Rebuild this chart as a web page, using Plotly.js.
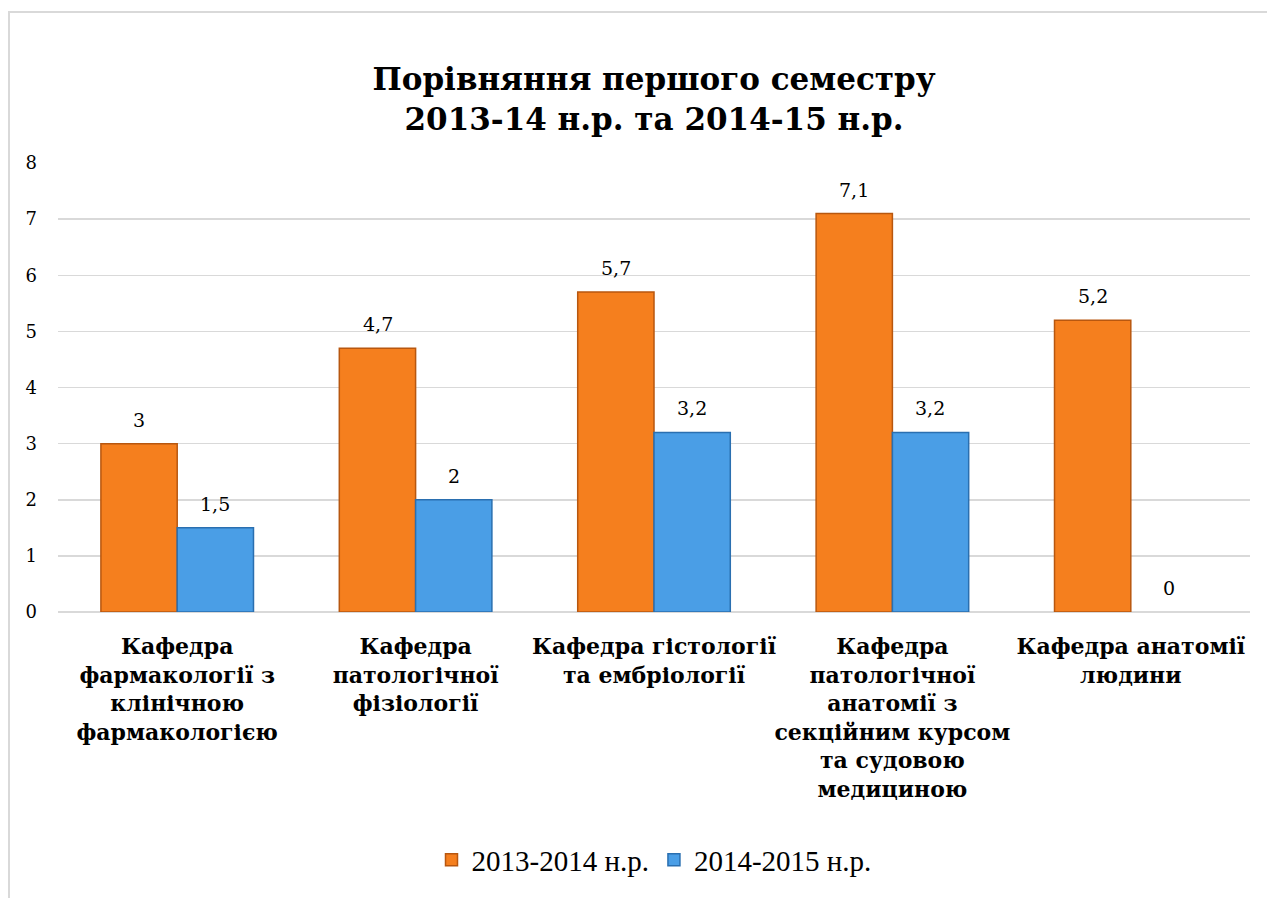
<!DOCTYPE html>
<html>
<head>
<meta charset="utf-8">
<script src="https://cdn.plot.ly/plotly-3.0.1.min.js"></script>
<style>
  html, body { margin: 0; padding: 0; overflow: hidden; background: #fff; }
  #frame { position: absolute; left: 8px; top: 11px; width: 1400px; height: 1000px;
           border-left: 2px solid #d9d9d9; border-top: 2px solid #d9d9d9; pointer-events: none; z-index: 2; }
  #chart { position: absolute; left: 0; top: 0; width: 1267px; height: 898px; }
</style>
</head>
<body>
<div id="chart"></div>
<div id="frame"></div>
<script>
const categories = [
  "Кафедра<br>фармакології з<br>клінічною<br>фармакологією",
  "Кафедра<br>патологічної<br>фізіології",
  "Кафедра гістології<br>та ембріології",
  "Кафедра<br>патологічної<br>анатомії з<br>секційним курсом<br>та судовою<br>медициною",
  "Кафедра анатомії<br>людини"
];
const series1Name = "2013-2014 н.р.";
const series1 = [3, 4.7, 5.7, 7.1, 5.2];
const series2Name = "2014-2015 н.р.";
const series2 = [1.5, 2, 3.2, 3.2, 0];
const yTicks = [0, 1, 2, 3, 4, 5, 6, 7, 8];

const serif = 'Liberation Serif';
const dserif = 'DejaVu Serif';
const fmt = v => String(v).replace('.', ',');

const traces = [
  {
    type: 'bar', name: series1Name, x: categories, y: series1,
    marker: {color: '#F57F1E', line: {color: '#B8570F', width: series1.map(v => v ? 1.5 : 0)}},
    hoverinfo: 'y'
  },
  {
    type: 'bar', name: series2Name, x: categories, y: series2,
    marker: {color: '#4A9EE6', line: {color: '#2A6FB0', width: series2.map(v => v ? 1.5 : 0)}},
    hoverinfo: 'y'
  }
];

const annotations = [];
[[series1, -38], [series2, 38]].forEach(([vals, dx]) => {
  vals.forEach((v, i) => {
    annotations.push({
      x: categories[i], y: v, xref: 'x', yref: 'y', text: fmt(v), showarrow: false,
      xshift: dx, yshift: 24, yanchor: 'middle', xanchor: 'center',
      font: {family: dserif, size: 19, color: '#000'}
    });
  });
});

const layout = {
  width: 1267, height: 898,
  margin: {l: 58, r: 17, t: 163, b: 281},
  paper_bgcolor: '#fff', plot_bgcolor: '#fff',
  separators: ', ',
  barmode: 'group', bargap: 0.36, bargroupgap: 0,
  title: {
    text: 'Порівняння першого семестру<br>2013-14 н.р. та 2014-15 н.р.',
    font: {family: dserif, size: 31, color: '#000', weight: 'bold'},
    x: 0.5, xanchor: 'center', xref: 'paper',
    y: 1 - 90/898, yanchor: 'top', yref: 'container'
  },
  font: {family: serif, color: '#000'},
  xaxis: {
    tickfont: {family: dserif, size: 22, color: '#000', weight: 'bold'},
    showgrid: false, showline: false, zeroline: false, ticks: '',
    ticklabelstandoff: 19, tickangle: 0, automargin: false
  },
  yaxis: {
    range: [0, 8], tickvals: yTicks, ticktext: yTicks.map(String),
    tickfont: {family: dserif, size: 18, color: '#000'},
    showgrid: true, gridcolor: '#d9d9d9', gridwidth: 1.5,
    zeroline: true, zerolinecolor: '#d9d9d9', zerolinewidth: 1.5,
    showline: false, ticks: '', ticklabelstandoff: 20, automargin: false, fixedrange: true
  },
  legend: {
    orientation: 'h', x: 0.5, xanchor: 'center', y: -0.552, yanchor: 'middle',
    font: {family: serif, size: 29, color: '#000'},
    itemwidth: 30, tracegroupgap: 0
  },
  annotations: annotations,
  showlegend: true
};

Plotly.newPlot('chart', traces, layout, {displayModeBar: false, staticPlot: true});
</script>
</body>
</html>
